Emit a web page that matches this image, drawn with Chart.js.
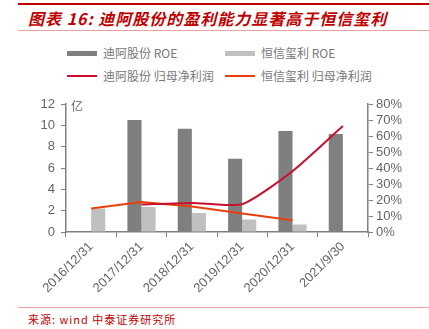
<!DOCTYPE html>
<html>
<head>
<meta charset="utf-8">
<script src="https://cdn.jsdelivr.net/npm/chart.js@4"></script>
<style>
  body { margin:0; width:429px; height:329px; background:#fff; position:relative; overflow:hidden; font-family:"Noto Sans CJK SC", sans-serif; }
  #topline { position:absolute; left:18px; right:0; top:3px; height:2px; background:#c00000; }
  #title { position:absolute; left:28px; top:6px; font-size:16px; font-weight:bold; font-style:italic; color:#c00000; letter-spacing:1px; }
  #subline { position:absolute; left:18px; right:0; top:30px; height:1px; background:#e8a0a0; }
  #legend { position:absolute; left:67px; top:44px; font-size:12px; color:#777; }
  .item { position:absolute; white-space:nowrap; }
  .sw { position:absolute; left:0; width:30px; }
  .item span.t { position:absolute; left:36px; top:0; }
  #wrap { position:absolute; left:0; top:90px; width:429px; height:215px; }
  #botline { position:absolute; left:18px; right:0; top:307px; height:1px; background:#e8a0a0; }
  #source { position:absolute; left:28px; top:311px; font-size:11px; color:#c00000; letter-spacing:1px; }
</style>
</head>
<body>
<div id="topline"></div>
<div id="title">图表 16: 迪阿股份的盈利能力显著高于恒信玺利</div>
<div id="subline"></div>
<div id="legend"></div>
<div id="wrap"><canvas id="myChart" width="429" height="215"></canvas></div>
<div id="botline"></div>
<div id="source">来源: wind 中泰证券研究所</div>
<script>
const labels = ['2016/12/31', '2017/12/31', '2018/12/31', '2019/12/31', '2020/12/31', '2021/9/30']
const diaBar = [null, 10.5, 9.68, 6.86, 9.46, 9.18]
const hxBar = [2.2, 2.35, 1.79, 1.17, 0.7, null]
const diaLine = [null, 17.2, 18.2, 17.4, 38, 66.2]
const hxLine = [14.7, 18.8, 16, 11.5, 7.3, null]
const leftTicks = [0, 2, 4, 6, 8, 10, 12]
const rightTicks = [0, 10, 20, 30, 40, 50, 60, 70, 80]

const ctx = document.getElementById('myChart')
const grey = '#808080'

// unit label next to the left axis
const unitLabel = {
    id: 'unitLabel',
    afterDraw(chart) {
        let y = chart.scales.y
        let c = chart.ctx
        c.save()
        c.fillStyle = '#666'
        c.font = '12px "Noto Sans CJK SC"'
        c.textBaseline = 'middle'
        c.fillText('亿', y.right + 5, y.top + 2)
        c.restore()
    }
}

let config = {
    type: 'bar',
    data: {
        labels: labels,
        datasets: [
            { type:'line', label:'迪阿股份 归母净利润', data: diaLine, yAxisID:'y1', borderColor:'#c8102e', borderWidth:2, pointRadius:0, tension:0.2, order:0 },
            { type:'line', label:'恒信玺利 归母净利润', data: hxLine, yAxisID:'y1', borderColor:'#e8400c', borderWidth:2, pointRadius:0, tension:0, order:0 },
            { label:'迪阿股份 ROE', data: diaBar, yAxisID:'y', backgroundColor:'#7f7f7f', categoryPercentage:0.56, barPercentage:1, order:1 },
            { label:'恒信玺利 ROE', data: hxBar, yAxisID:'y', backgroundColor:'#c0c0c0', categoryPercentage:0.56, barPercentage:1, order:1 },
        ]
    },
    options: {
        responsive: false,
        animation: false,
        layout: { padding: { top: 14, left: 0, right: 0, bottom: 0 } },
        plugins: { legend: { display:false }, tooltip: { enabled:false } },
        scales: {
            x: {
                grid: { display:true, drawOnChartArea:false, offset:true, color:grey, tickLength:5 },
                border: { color:grey, width:1.5 },
                ticks: { color:'#666', font:{ family:'Liberation Sans', size:13 }, maxRotation:45, minRotation:45, padding:2, autoSkip:false },
                afterFit(s) { s.height = 73 }
            },
            y: {
                min: 0, max: 12,
                afterBuildTicks(s) { s.ticks = leftTicks.map(v => ({ value: v })) },
                grid: { drawOnChartArea:false, color:grey, tickLength:5 },
                border: { color:grey, width:1.5 },
                ticks: { color:'#666', font:{ family:'Liberation Sans', size:13 }, padding:6, autoSkip:false },
                afterFit(s) { s.width = 66 }
            },
            y1: {
                position: 'right',
                min: 0, max: 80,
                afterBuildTicks(s) { s.ticks = rightTicks.map(v => ({ value: v })) },
                grid: { drawOnChartArea:false, color:grey, tickLength:5 },
                border: { color:grey, width:1.5 },
                ticks: { color:'#666', font:{ family:'Liberation Sans', size:13 }, padding:3, autoSkip:false, callback: v => v + '%' },
                afterFit(s) { s.width = 61 }
            }
        }
    },
    plugins: [unitLabel]
}

let newChart = new Chart(ctx, config)

// html legend, two items per row
const legendBox = document.getElementById('legend')
const legendOrder = [2, 3, 0, 1]
legendOrder.forEach((di, i) => {
    let ds = config.data.datasets[di]
    let item = document.createElement('div')
    item.className = 'item'
    item.style.left = (i % 2) * 158 + 'px'
    item.style.top = Math.floor(i / 2) * 23 + 'px'
    let sw = document.createElement('div')
    sw.className = 'sw'
    if (ds.type === 'line') {
        sw.style.top = '8px'; sw.style.height = '2px'; sw.style.background = ds.borderColor
    } else {
        sw.style.top = '7px'; sw.style.height = '5px'; sw.style.background = ds.backgroundColor
    }
    let t = document.createElement('span')
    t.className = 't'
    t.textContent = ds.label
    item.appendChild(sw)
    item.appendChild(t)
    legendBox.appendChild(item)
})
</script>
</body>
</html>
